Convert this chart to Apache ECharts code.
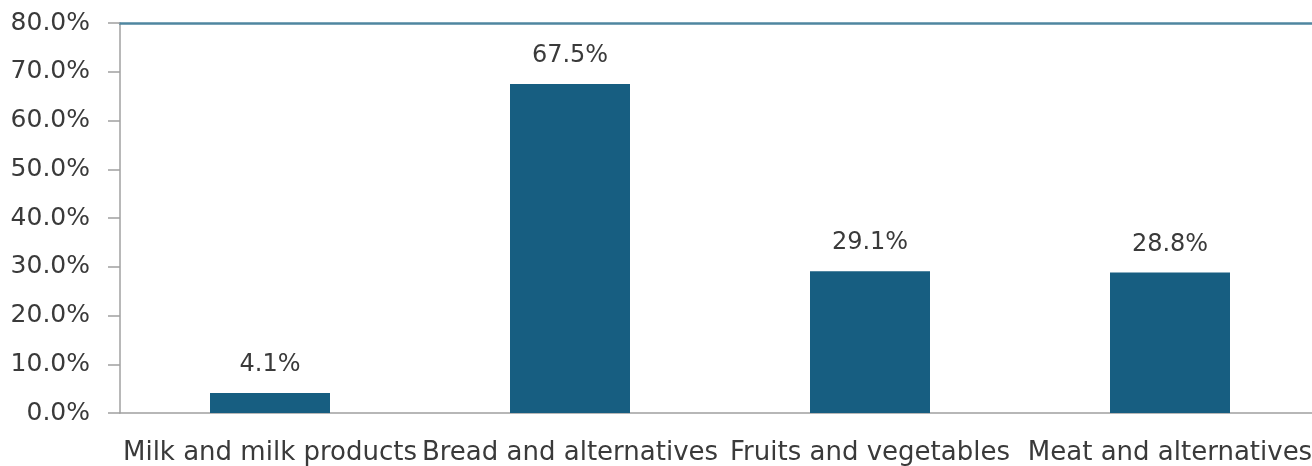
<!DOCTYPE html>
<html lang="en">
<head>
    <meta charset="UTF-8">
    <title>Food groups</title>
    <script src="https://cdn.jsdelivr.net/npm/echarts@6/dist/echarts.min.js"></script>
    <style>
        html, body { margin: 0; padding: 0; background: #fff; overflow: hidden; }
        /* plot runs slightly past the right edge of the window, like the source */
        #chart { width: 1320px; height: 466px; }
    </style>
</head>
<body>
<div id="chart"></div>
<script>
    // data
    const categories = ['Milk and milk products', 'Bread and alternatives', 'Fruits and vegetables', 'Meat and alternatives'];
    const shares = [4.1, 67.5, 29.1, 28.8];

    const font = 'DejaVu Sans';
    const textColor = '#3a3a3a';
    const axisGrey = '#a0a0a0';

    const chart = echarts.init(document.getElementById('chart'));
    chart.setOption({
        animation: false,
        grid: { left: 120, top: 23, right: 0, bottom: 53 },
        xAxis: [{
            type: 'category',
            data: categories,
            axisLine: { lineStyle: { color: axisGrey, width: 1.5 } },
            axisTick: { length: 10, lineStyle: { color: axisGrey, width: 1.5 } },
            axisLabel: { color: textColor, fontFamily: font, fontSize: 26, margin: 27, interval: 0 }
        }, {
            // blue line along the top of the plot
            type: 'category',
            position: 'top',
            data: categories,
            axisLine: { show: true, lineStyle: { color: '#4f86a0', width: 2.5 } },
            axisTick: { show: false },
            axisLabel: { show: false }
        }],
        yAxis: {
            type: 'value',
            min: 0,
            max: 80,
            interval: 10,
            splitLine: { show: false },
            axisLine: { show: true, lineStyle: { color: axisGrey, width: 1.5 } },
            axisTick: { show: true, length: 12, lineStyle: { color: axisGrey, width: 1.5 } },
            axisLabel: {
                color: textColor, fontFamily: font, fontSize: 25, margin: 30,
                formatter: v => v.toFixed(1) + '%'
            }
        },
        series: [{
            type: 'bar',
            data: shares,
            barWidth: 120,
            itemStyle: { color: '#175e81' },
            label: {
                show: true,
                position: 'top',
                distance: 16,
                color: textColor,
                fontFamily: font,
                fontSize: 24,
                formatter: p => p.value.toFixed(1) + '%'
            }
        }]
    });
</script>
</body>
</html>
